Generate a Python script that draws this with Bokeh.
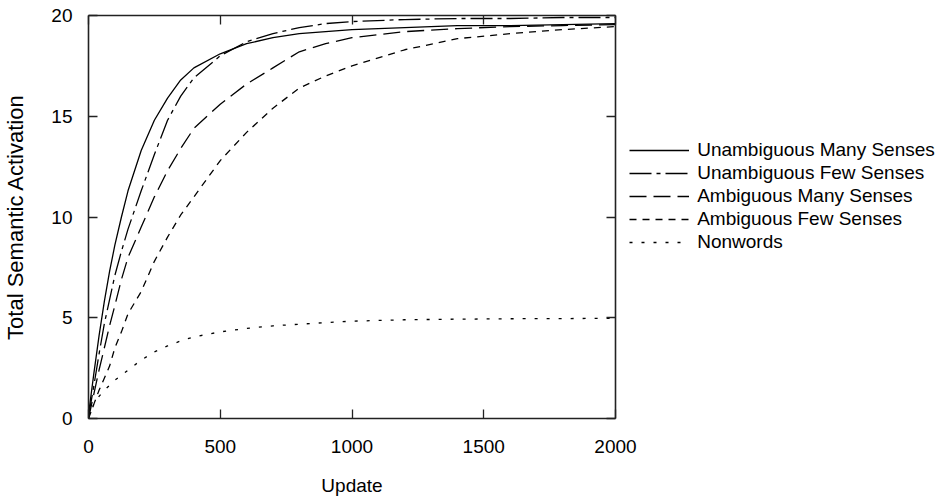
from bokeh.plotting import figure
from bokeh.models import LinearAxis, Legend, LegendItem, FixedTicker, Range1d
from bokeh.embed import file_html
from bokeh.resources import INLINE

updates = [0, 20, 40, 60, 80, 100, 125, 150, 200, 250, 300, 350, 400, 500, 600,
           700, 800, 900, 1000, 1200, 1400, 1600, 1800, 2000]
unamb_many = [0.2, 2.2, 4.1, 5.8, 7.3, 8.6, 10.0, 11.3, 13.3, 14.8, 15.9, 16.8, 17.4,
              18.1, 18.6, 18.9, 19.1, 19.2, 19.3, 19.4, 19.5, 19.5, 19.55, 19.6]
unamb_few = [0.1, 1.6, 3.2, 4.7, 5.9, 7.1, 8.3, 9.4, 11.3, 13.1, 14.8, 16.0, 16.9,
             18.0, 18.7, 19.1, 19.4, 19.6, 19.7, 19.8, 19.85, 19.85, 19.9, 19.9]
amb_many = [0.0, 1.2, 2.4, 3.5, 4.6, 5.6, 6.9, 8.0, 9.5, 11.0, 12.3, 13.4, 14.4,
            15.6, 16.6, 17.4, 18.2, 18.6, 18.9, 19.2, 19.35, 19.45, 19.5, 19.55]
amb_few = [0.0, 0.7, 1.4, 2.0, 2.6, 3.5, 4.3, 5.2, 6.3, 7.8, 9.0, 10.1, 11.0,
           12.8, 14.2, 15.4, 16.4, 17.0, 17.5, 18.3, 18.85, 19.1, 19.3, 19.45]
nonwords = [0.0, 0.7, 1.1, 1.4, 1.65, 1.9, 2.15, 2.4, 2.9, 3.3, 3.6, 3.85, 4.05,
            4.3, 4.47, 4.6, 4.68, 4.76, 4.83, 4.9, 4.93, 4.95, 4.96, 4.97]

series_names = ["Unambiguous Many Senses", "Unambiguous Few Senses",
                "Ambiguous Many Senses", "Ambiguous Few Senses", "Nonwords"]
series_values = [unamb_many, unamb_few, amb_many, amb_few, nonwords]
series_dash = ["solid", "22 5 4 5", "17 7", "7 6", "3 9"]

x_ticks = [0, 500, 1000, 1500, 2000]
y_ticks = [0, 5, 10, 15, 20]

FONT = "Liberation Sans"

p = figure(frame_width=527, frame_height=403, output_backend="svg",
           toolbar_location=None, x_range=Range1d(0, 2000), y_range=Range1d(0, 20),
           min_border_left=80, min_border_top=15, min_border_bottom=78,
           min_border_right=330)
p.grid.visible = False
p.outline_line_color = None
p.background_fill_color = "white"
p.border_fill_color = "white"

items = []
for name, vals, dash in zip(series_names, series_values, series_dash):
    r = p.line(updates, vals, line_color="black", line_width=1.3, line_dash=dash)
    items.append(LegendItem(label=name, renderers=[r]))


def style_axis(ax, ticks, show_labels=True):
    ax.ticker = FixedTicker(ticks=ticks)
    ax.axis_line_color = "#222222"
    ax.axis_line_width = 1.6
    ax.major_tick_line_color = "#222222"
    ax.major_tick_line_width = 1.3
    ax.major_tick_in = 9
    ax.major_tick_out = 0
    ax.minor_tick_line_color = None
    ax.major_label_text_font = FONT
    ax.major_label_text_font_size = "19px"
    ax.major_label_text_color = "black"
    ax.axis_label_text_font = FONT
    ax.axis_label_text_font_style = "normal"
    ax.axis_label_text_color = "black"
    if not show_labels:
        ax.major_label_overrides = {t: "" for t in ticks}
        ax.major_label_standoff = 0


style_axis(p.xaxis[0], x_ticks)
style_axis(p.yaxis[0], y_ticks)
p.xaxis[0].axis_label = "Update"
p.xaxis[0].axis_label_text_font_size = "19px"
p.xaxis[0].major_label_standoff = 21
p.xaxis[0].axis_label_standoff = 19
p.yaxis[0].axis_label = "Total Semantic Activation"
p.yaxis[0].axis_label_text_font_size = "22px"
p.yaxis[0].major_label_standoff = 16
p.yaxis[0].axis_label_standoff = 20

top_ax = LinearAxis()
style_axis(top_ax, x_ticks, show_labels=False)
p.add_layout(top_ax, "above")
right_ax = LinearAxis()
style_axis(right_ax, y_ticks, show_labels=False)
p.add_layout(right_ax, "right")

legend = Legend(items=items, location=(-206, 165), glyph_width=60, glyph_height=20,
                label_standoff=8, spacing=1, padding=0, margin=0,
                border_line_color=None, background_fill_alpha=0,
                label_text_font=FONT, label_text_font_size="19px",
                label_text_color="black", label_height=20)
p.add_layout(legend, "right")

open("out.html", "w").write(file_html(p, INLINE))
